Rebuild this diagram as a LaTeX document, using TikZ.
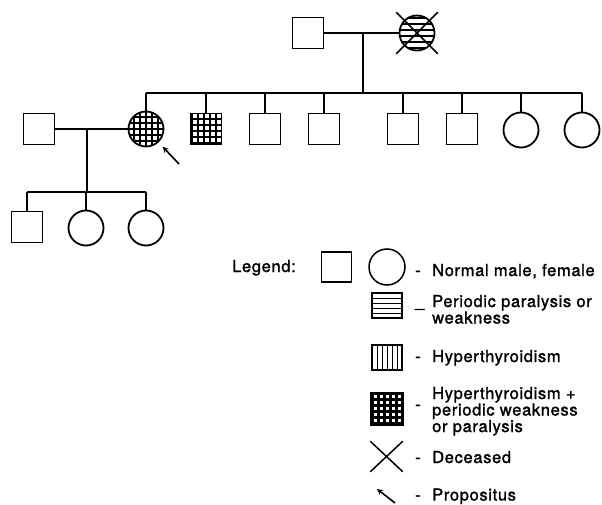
\documentclass[tikz,border=0pt]{standalone}
\usepackage{fontspec}
\setmainfont{TeX Gyre Heros}[LetterSpace=4,FakeBold=1.5]
\usepackage{tikz}
\usetikzlibrary{arrows,shapes,shapes.misc,positioning}
\tikzstyle{male} = [draw, rectangle, minimum size=31pt, inner sep=0pt, line width=1.8pt]
\tikzstyle{female} = [draw, circle, minimum size=35pt, inner sep=0pt, line width=1.8pt]
\tikzstyle{link} = [line width=2.2pt]
\tikzstyle{arrow} = [line width=1.6pt,->,>=stealth]
\tikzstyle{legtext} = [font=\fontsize{16.5}{16.5}\selectfont, inner sep=0pt, anchor=base west, align=left]
\tikzset{
  gridfill/.style={path picture={
    \fill[black] (path picture bounding box.south west) rectangle (path picture bounding box.north east);
    \foreach \i in {0,...,5}
      \foreach \j in {0,...,5}
        \fill[white] ([shift={(#1+\i*6pt,#1+\j*6pt)}]path picture bounding box.south west) rectangle +(3.5pt,3.5pt);
  }},
  hstripe/.style={path picture={
    \foreach \k in {0,...,5}
      \draw[line width=#1] ([yshift=2.5pt+\k*6pt]path picture bounding box.south west) -- +(40pt,0pt);
  }},
  hlines/.style={path picture={
    \foreach \k in {1,...,4}
      \draw[line width=1pt] ([yshift=\k*5pt]path picture bounding box.south west) -- +(40pt,0pt);
  }},
  vlines/.style={path picture={
    \foreach \k in {1,...,5}
      \draw[line width=1pt] ([xshift=\k*5pt]path picture bounding box.south west) -- +(0pt,30pt);
  }}
}

\begin{document}
\begin{tikzpicture}[x=1pt, y=-1pt]
\useasboundingbox (0,0) rectangle (602,505);

% Generation I
\node[male] (m0) at (308,33) {};
\node[female, hstripe=1.7pt] (f0) at (417,33) {};
\node[cross out, draw, line width=1.7pt, minimum size=40pt] (x0) at (417,33) {};
\draw[link] (m0) -- (f0);
\coordinate (j0) at (363,33);
\coordinate (s0) at (363,93);
\draw[link] (j0) -- (s0);

% Generation II
\node[male] (h1) at (39,129) {};
\node[female, gridfill=0.75pt] (p) at (146,129) {};
\node[male, gridfill=2.5pt] (c1) at (206,129) {};
\node[male] (c2) at (265,129) {};
\node[male] (c3) at (324,129) {};
\node[male] (c4) at (403,129) {};
\node[male] (c5) at (462,129) {};
\node[female] (c6) at (521,130) {};
\node[female] (c7) at (582,130) {};
\draw[link] (p |- s0) -- (c7 |- s0);
\foreach \n in {p,c1,c2,c3,c4,c5,c6,c7}
  \draw[link] (\n |- s0) -- (\n);
\draw[link] (h1) -- (p);
\coordinate (j1) at (87,129);
\coordinate (s1) at (87,192);
\draw[link] (j1) -- (s1);

% Propositus
\coordinate (pa) at (179,164);
\draw[arrow, shorten >=6pt] (pa) -- (p);

% Generation III
\node[male] (g1) at (27,227) {};
\node[female] (g2) at (86,228) {};
\node[female] (g3) at (146,228) {};
\draw[link] (g1 |- s1) -- (g3 |- s1);
\foreach \n in {g1,g2,g3}
  \draw[link] (\n |- s1) -- (\n);

% Legend
\node[legtext] (leg) at (232,272) {Legend:};
\node[male, minimum size=30pt, line width=1.5pt] (lm) at (336.5,267) {};
\node[female, minimum size=36pt, line width=1.5pt] (lf) at (387,267) {};
\node[draw, line width=1.5pt, minimum width=30pt, minimum height=25pt, inner sep=0pt, hlines] (lh) at (387,305.5) {};
\node[draw, line width=1.5pt, minimum width=30pt, minimum height=25pt, inner sep=0pt, vlines] (lv) at (387,357.5) {};
\node[male, minimum size=32pt, gridfill=2.75pt] (lg) at (387,409) {};
\node[cross out, draw, line width=1.5pt, minimum width=31pt, minimum height=29pt] (lx) at (386.5,456.5) {};
\coordinate (la1) at (395,503);
\coordinate (la2) at (377,489);
\draw[arrow] (la1) -- (la2);

\node[legtext] (d1) at (415,276) {-};
\node[legtext] (t1) at (432,276) {Normal male, female};
\node[legtext] (d2) at (415,307) {\_};
\node[legtext] (t2) at (432,323.5) {Periodic paralysis or\\weakness};
\node[legtext] (d3) at (415,362) {-};
\node[legtext] (t3) at (432,362) {Hyperthyroidism};
\node[legtext] (d4) at (415,410) {-};
\node[legtext] (t4) at (432,432) {Hyperthyroidism +\\periodic weakness\\or paralysis};
\node[legtext] (d5) at (415,463) {-};
\node[legtext] (t5) at (432,463) {Deceased};
\node[legtext] (d6) at (415,500.5) {-};
\node[legtext] (t6) at (432,500.5) {Propositus};
\end{tikzpicture}
\end{document}
